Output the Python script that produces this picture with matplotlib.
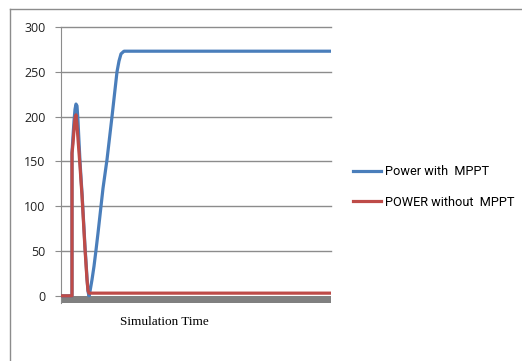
import numpy as np
import matplotlib.pyplot as plt
from matplotlib.lines import Line2D

# simulation time (arbitrary units, no ticks on the chart)
t_mppt = [0, 11, 11, 12, 13, 14, 15, 16, 17, 18, 19, 20, 21, 22, 23, 24, 25, 26, 27, 28,
          29, 31, 33, 35, 37, 39, 42, 46, 51, 56, 58, 60, 63, 270]
p_mppt = [0, 0, 160, 178, 195, 208, 214, 212, 195, 172, 150, 132, 115, 95, 75, 55, 38, 20, 5, 0,
          5, 18, 33, 51, 70, 90, 120, 152, 200, 250, 262, 270, 273, 273]

t_nomppt = [0, 11, 11, 12, 13, 14, 15, 16, 17, 18, 19, 20, 21, 22, 23, 24, 25, 26, 27, 28, 270]
p_nomppt = [0, 0, 159, 170, 185, 198, 202, 190, 175, 160, 145, 128, 112, 92, 72, 52, 35, 18, 6, 3, 3]

yticks = [0, 50, 100, 150, 200, 250, 300]

fig = plt.figure(figsize=(5.22, 3.61), dpi=100)
ax = fig.add_axes([61/522, 1 - 303/361, 270/522, 276/361])

grey = '#8c8c8c'
for y in yticks[1:]:
    ax.axhline(y, color=grey, lw=1.0, zorder=1, clip_on=False)
ax.axhspan(-8, 0, color='#808080', zorder=2, lw=0)

ax.plot(t_mppt, p_mppt, color='#4a7ebb', lw=2.3, label='Power with  MPPT', zorder=3)
ax.plot(t_nomppt, p_nomppt, color='#be4b48', lw=2.3, label='POWER without  MPPT', zorder=4)

ax.set_xlim(0, 270)
ax.set_ylim(-8, 300)
ax.set_xticks([])
ax.set_yticks(yticks)
ax.tick_params(axis='y', length=4, color=grey, pad=7, labelsize=9, labelcolor='#222222')
for lab in ax.get_yticklabels():
    lab.set_family('Open Sans')
for s in ['top', 'right', 'bottom']:
    ax.spines[s].set_visible(False)
ax.spines['left'].set_color(grey)

leg = ax.legend(loc='center left', bbox_to_anchor=(1.04, 0.42), frameon=False,
                handlelength=2.2, handletextpad=0.25, labelspacing=1.35,
                prop={'family': 'Roboto', 'size': 9.2})

fig.text(164/522, 1 - 322/361, 'Simulation Time', ha='center', va='center',
         family='Liberation Serif', fontsize=9.5)

# outer chart frame (only top and left edges fall inside the image)
fig.add_artist(Line2D([10/522, 10/522], [0, 1 - 9/361], transform=fig.transFigure, color=grey, lw=1))
fig.add_artist(Line2D([10/522, 1], [1 - 9/361, 1 - 9/361], transform=fig.transFigure, color=grey, lw=1))

fig.savefig('out.png', dpi=100)
